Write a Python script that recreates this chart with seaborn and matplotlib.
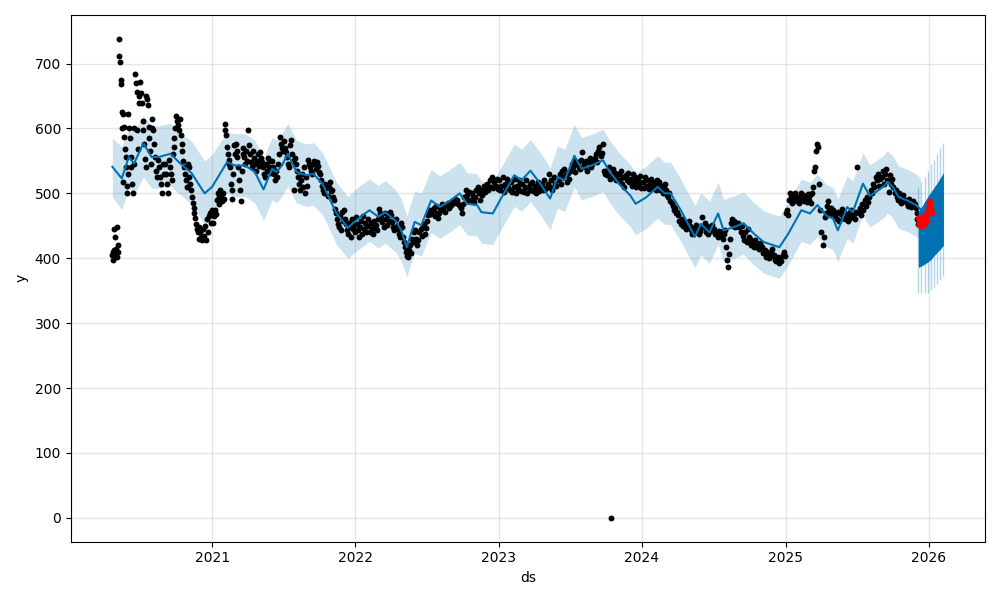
import pandas as pd
import matplotlib
matplotlib.use("Agg")
import matplotlib.pyplot as plt
import seaborn as sns

obs_2020 = [  # Apr (from the 21st) .. Dec
    [405, 398, 410, 445, 412, 403, 433, 408],
    [415, 402, 448, 420, 410, 738, 712, 702, 674, 669, 625, 600, 517, 623, 602, 587, 569, 556, 540, 512, 500, 530],
    [622, 600, 585, 556, 540, 515, 500, 545, 600, 684, 670, 656, 597, 568, 640, 650],
    [672, 655, 640, 612, 597, 576, 553, 540, 650, 645, 636, 602, 585, 566, 546, 600],
    [615, 597, 576, 556, 535, 525, 551, 540, 525, 515, 500, 546, 530],
    [546, 530, 515, 500, 551, 540, 530, 520, 560, 571, 585, 600],
    [620, 612, 605, 597, 615, 590, 576, 565, 550, 540, 530, 520, 510, 545],
    [540, 525, 515, 505, 495, 485, 478, 470, 462, 453, 445, 440, 448, 430],
    [440, 432, 428, 445, 435, 450, 428, 460, 440, 465, 470, 455, 475],
]
obs_2021 = [
    [470, 455, 465, 475, 468, 490, 500, 495, 484, 505, 495, 488, 500, 492],
    [607, 597, 590, 571, 561, 551, 545, 540, 515, 505, 492, 530, 575, 560],
    [576, 566, 556, 540, 520, 505, 489, 535, 560, 570, 556, 545, 565, 550],
    [598, 575, 560, 548, 540, 565, 555, 545, 535, 550, 560, 542],
    [563, 555, 548, 540, 530, 525, 545, 535, 555, 540, 550, 532],
    [550, 540, 530, 520, 535, 525, 545, 560, 587, 576, 570, 565],
    [580, 570, 563, 556, 545, 540, 575, 582, 560, 550, 505, 555],
    [545, 535, 525, 515, 505, 520, 530, 510, 540, 500, 525, 512],
    [551, 546, 540, 535, 530, 545, 550, 538, 548, 542, 533],
    [530, 520, 512, 505, 500, 515, 508, 496, 510, 518, 503],
    [505, 495, 490, 476, 469, 460, 453, 448, 465, 443, 472, 458],
    [474, 461, 453, 443, 438, 455, 448, 433, 460, 445, 452, 440],
]
obs_2022 = [
    [463, 453, 443, 433, 448, 458, 438, 465, 445, 455, 440, 450],
    [461, 450, 440, 455, 445, 438, 458, 448, 452, 443, 460],
    [476, 469, 463, 456, 448, 470, 460, 452, 466, 458, 472],
    [466, 456, 448, 443, 460, 450, 445, 438, 433, 455, 448],
    [433, 425, 417, 410, 404, 402, 412, 420, 408, 430, 425, 440],
    [443, 430, 420, 428, 440, 445, 435, 450, 453, 438, 446],
    [458, 466, 470, 474, 468, 475, 478, 465, 480, 470, 462],
    [470, 478, 484, 475, 480, 472, 482, 485, 477, 481],
    [482, 488, 485, 492, 486, 490, 484, 480, 478, 470],
    [484, 495, 505, 498, 490, 502, 488, 500, 494, 486],
    [495, 505, 510, 500, 490, 505, 498, 512, 502, 508],
    [515, 505, 520, 510, 525, 508, 518, 512, 522, 506],
]
obs_2023 = [
    [520, 505, 512, 525, 502, 515, 508, 522, 510, 518, 505],
    [518, 502, 510, 522, 500, 512, 506, 520, 515, 504],
    [515, 502, 510, 520, 500, 508, 515, 505, 518, 503],
    [512, 500, 508, 518, 503, 510, 515, 505, 520, 507],
    [508, 515, 530, 510, 520, 505, 525, 515, 512, 522],
    [520, 530, 515, 535, 525, 538, 528, 518, 532, 522],
    [535, 545, 540, 550, 533, 545, 548, 540, 538, 552],
    [563, 545, 540, 550, 535, 548, 555, 540, 545, 552],
    [555, 560, 548, 565, 571, 558, 562, 576, 535, 530],
    [535, 528, 540, 522, 0, 530, 538, 525, 532, 520, 528],
    [530, 520, 535, 515, 525, 510, 528, 520, 532, 518],
    [522, 512, 530, 518, 525, 510, 520, 515, 527, 508],
]
obs_2024 = [
    [518, 508, 525, 512, 520, 507, 515, 522, 510, 517],
    [515, 505, 520, 510, 518, 505, 512, 500, 508, 515],
    [505, 498, 495, 500, 489, 485, 480, 475, 478, 469, 472],
    [466, 458, 453, 460, 450, 455, 448, 445, 452, 458],
    [450, 443, 438, 447, 440, 452, 445, 438, 442, 448],
    [463, 448, 455, 440, 450, 438, 446, 442, 452, 444],
    [445, 438, 440, 433, 442, 436, 440, 430, 437, 443],
    [417, 397, 387, 407, 430, 455, 461, 450, 458, 448, 454, 450],
    [455, 448, 440, 450, 435, 428, 440, 425, 445, 432],
    [430, 420, 425, 417, 428, 418, 422, 415, 424, 419],
    [417, 408, 412, 402, 410, 405, 400, 408, 414, 404],
    [405, 398, 395, 402, 392, 400, 396, 405, 410, 403],
]
obs_2025 = [  # Jan .. Dec (to the 3rd)
    [470, 474, 466, 490, 500, 495, 485, 498, 490, 500, 493, 488],
    [495, 485, 500, 490, 498, 488, 495, 492, 486, 499],
    [490, 498, 485, 500, 510, 535, 540, 566, 576, 571, 515, 475],
    [440, 420, 433, 463, 470, 480, 489, 475, 468, 478, 472],
    [475, 465, 470, 460, 472, 458, 468, 476, 462, 470],
    [460, 465, 458, 470, 462, 474, 466, 468, 460, 472],
    [540, 470, 478, 466, 484, 475, 490, 480, 495, 486],
    [495, 505, 500, 515, 510, 525, 520, 530, 512, 522],
    [525, 535, 515, 530, 538, 520, 502, 528, 515, 522],
    [510, 500, 505, 495, 490, 500, 485, 492, 498, 488],
    [490, 485, 480, 492, 486, 479, 488, 482, 484, 477],
    [470, 460, 453],
]
obs_first_day = "2020-04-21"
obs_last_day = "2025-12-04"

# --- fitted trend (yhat) and its uncertainty band ---
yhat_ds = [
    "2020-04-22", "2020-05-16", "2020-06-03", "2020-06-16", "2020-07-10", "2020-07-31", "2020-08-18",
    "2020-09-17", "2020-10-12", "2020-11-10", "2020-12-13",
    "2021-01-01", "2021-02-08", "2021-02-28", "2021-03-26", "2021-04-20", "2021-05-12", "2021-06-03",
    "2021-06-14", "2021-06-28", "2021-07-13", "2021-08-04", "2021-08-29", "2021-09-16", "2021-10-09",
    "2021-10-23", "2021-11-14", "2021-12-13",
    "2022-01-08", "2022-02-06", "2022-02-28", "2022-03-18", "2022-04-13", "2022-04-28", "2022-05-12",
    "2022-06-01", "2022-06-18", "2022-07-13", "2022-08-04", "2022-08-26", "2022-09-24", "2022-10-12",
    "2022-11-07", "2022-11-18", "2022-12-17",
    "2023-01-05", "2023-02-10", "2023-02-28", "2023-03-23", "2023-04-17", "2023-05-12", "2023-05-31",
    "2023-06-18", "2023-07-13", "2023-07-31", "2023-08-26", "2023-09-24", "2023-10-09", "2023-11-03",
    "2023-12-02", "2023-12-16",
    "2024-01-12", "2024-02-10", "2024-02-28", "2024-03-14", "2024-04-09", "2024-05-15", "2024-05-30",
    "2024-06-21", "2024-07-13", "2024-07-27", "2024-08-22", "2024-09-16", "2024-10-12", "2024-11-06",
    "2024-12-16",
    "2025-01-08", "2025-02-10", "2025-03-04", "2025-03-23", "2025-04-14", "2025-05-02", "2025-05-14",
    "2025-06-07", "2025-06-21", "2025-07-17", "2025-08-03", "2025-08-19", "2025-09-10", "2025-09-17",
    "2025-10-01", "2025-10-16", "2025-11-07", "2025-11-29", "2025-12-10",
]
yhat = [
    541, 523, 556, 546, 577, 556, 556, 561, 546, 531, 500,
    510, 548, 543, 543, 533, 506, 538, 533, 543, 561, 533, 528, 530, 515, 497, 469, 447,
    461, 474, 464, 471, 458, 443, 417, 456, 451, 489, 479, 487, 500, 484, 482, 471, 469,
    490, 528, 520, 535, 515, 492, 525, 520, 558, 538, 543, 551, 535, 515, 497, 484,
    494, 510, 500, 500, 474, 433, 453, 440, 469, 443, 448, 454, 438, 425, 417,
    438, 474, 469, 482, 466, 461, 443, 479, 471, 515, 496, 502, 512, 518, 510, 494, 489, 482, 476,
]
yhat_lower = [
    495, 475, 508, 498, 525, 508, 508, 512, 498, 483, 452,
    460, 500, 495, 495, 485, 458, 490, 485, 495, 512, 485, 480, 482, 467, 450, 421, 400,
    413, 426, 416, 423, 410, 395, 372, 408, 403, 440, 431, 439, 452, 436, 434, 423, 421,
    442, 480, 472, 487, 467, 444, 477, 472, 510, 490, 495, 503, 487, 467, 449, 436,
    446, 462, 452, 452, 426, 385, 405, 392, 421, 395, 400, 406, 390, 377, 369,
    390, 426, 421, 434, 418, 413, 395, 431, 423, 467, 448, 454, 464, 470, 462, 446, 441, 434, 428,
]
yhat_upper = [
    585, 572, 600, 595, 620, 604, 604, 608, 594, 580, 550,
    560, 595, 592, 592, 582, 555, 586, 582, 592, 608, 582, 576, 578, 563, 545, 517, 495,
    510, 522, 512, 520, 506, 491, 465, 504, 500, 537, 527, 535, 548, 532, 530, 519, 517,
    538, 576, 568, 583, 563, 540, 573, 568, 606, 586, 591, 599, 583, 563, 545, 532,
    542, 558, 548, 548, 522, 481, 501, 488, 517, 491, 496, 502, 486, 473, 465,
    486, 522, 517, 530, 514, 509, 491, 527, 519, 563, 544, 550, 560, 566, 558, 542, 537, 530, 524,
]

# --- forecast horizon (every 8 days from 2025-12-05) ---
fc_start = "2025-12-05"
fc_inner_lo = [386, 388, 391, 394, 398, 404, 409, 414, 420]
fc_inner_hi = [472, 479, 487, 495, 502, 509, 516, 524, 532]
fc_outer_lo = [346, 346, 346, 347, 351, 355, 361, 366, 372]
fc_outer_hi = [510, 517, 525, 535, 546, 552, 561, 570, 578]

# --- held-out actuals (every 2 days from 2025-12-04) ---
test_start = "2025-12-04"
test_y = [462, 455, 452, 458, 450, 460, 465, 456, 452, 460, 463, 458, 470, 478, 485, 489, 482, 476, 470]

BLUE = "#0072B2"


def month_points(year, first_month, months):
    rows = []
    lo, hi = pd.Timestamp(obs_first_day), pd.Timestamp(obs_last_day)
    for i, vals in enumerate(months):
        start = pd.Timestamp(year=year, month=first_month + i, day=1)
        end = start + pd.offsets.MonthBegin(1)
        start, end = max(start, lo), min(end, hi)
        step = (end - start) / len(vals)
        for j, v in enumerate(vals):
            rows.append((start + step * (j + 0.5), v))
    return rows


rows = (month_points(2020, 4, obs_2020) + month_points(2021, 1, obs_2021)
        + month_points(2022, 1, obs_2022) + month_points(2023, 1, obs_2023)
        + month_points(2024, 1, obs_2024) + month_points(2025, 1, obs_2025))
obs = pd.DataFrame(rows, columns=["ds", "y"])

fit = pd.DataFrame({"ds": pd.to_datetime(yhat_ds), "yhat": yhat,
                    "lo": yhat_lower, "hi": yhat_upper})
fc = pd.DataFrame({"ds": pd.date_range(fc_start, periods=len(fc_inner_lo), freq="8D"),
                   "in_lo": fc_inner_lo, "in_hi": fc_inner_hi,
                   "out_lo": fc_outer_lo, "out_hi": fc_outer_hi})
test = pd.DataFrame({"ds": pd.date_range(test_start, periods=len(test_y), freq="2D"), "y": test_y})

fig, ax = plt.subplots(figsize=(10, 6), dpi=100)

sns.scatterplot(data=obs, x="ds", y="y", color="k", s=18, linewidth=0, ax=ax, zorder=2)
sns.lineplot(data=fit, x="ds", y="yhat", color=BLUE, lw=1.5, estimator=None, ax=ax, zorder=3)
ax.fill_between(fit["ds"], fit["lo"], fit["hi"], color=BLUE, alpha=0.2, lw=0, zorder=1)

# forecast intervals
ax.vlines(fc["ds"], fc["out_lo"], fc["out_hi"], color=BLUE, alpha=0.3, lw=1, zorder=3)
ax.fill_between(fc["ds"], fc["in_lo"], fc["in_hi"], color=BLUE, lw=0, zorder=3)

sns.scatterplot(data=test, x="ds", y="y", color="red", s=18, linewidth=0, ax=ax, zorder=4)

ax.grid(True, which="major", c="gray", ls="-", lw=1, alpha=0.2)
ax.set_xlabel("ds")
ax.set_ylabel("y")
fig.tight_layout()
fig.savefig("out.png", dpi=100)
